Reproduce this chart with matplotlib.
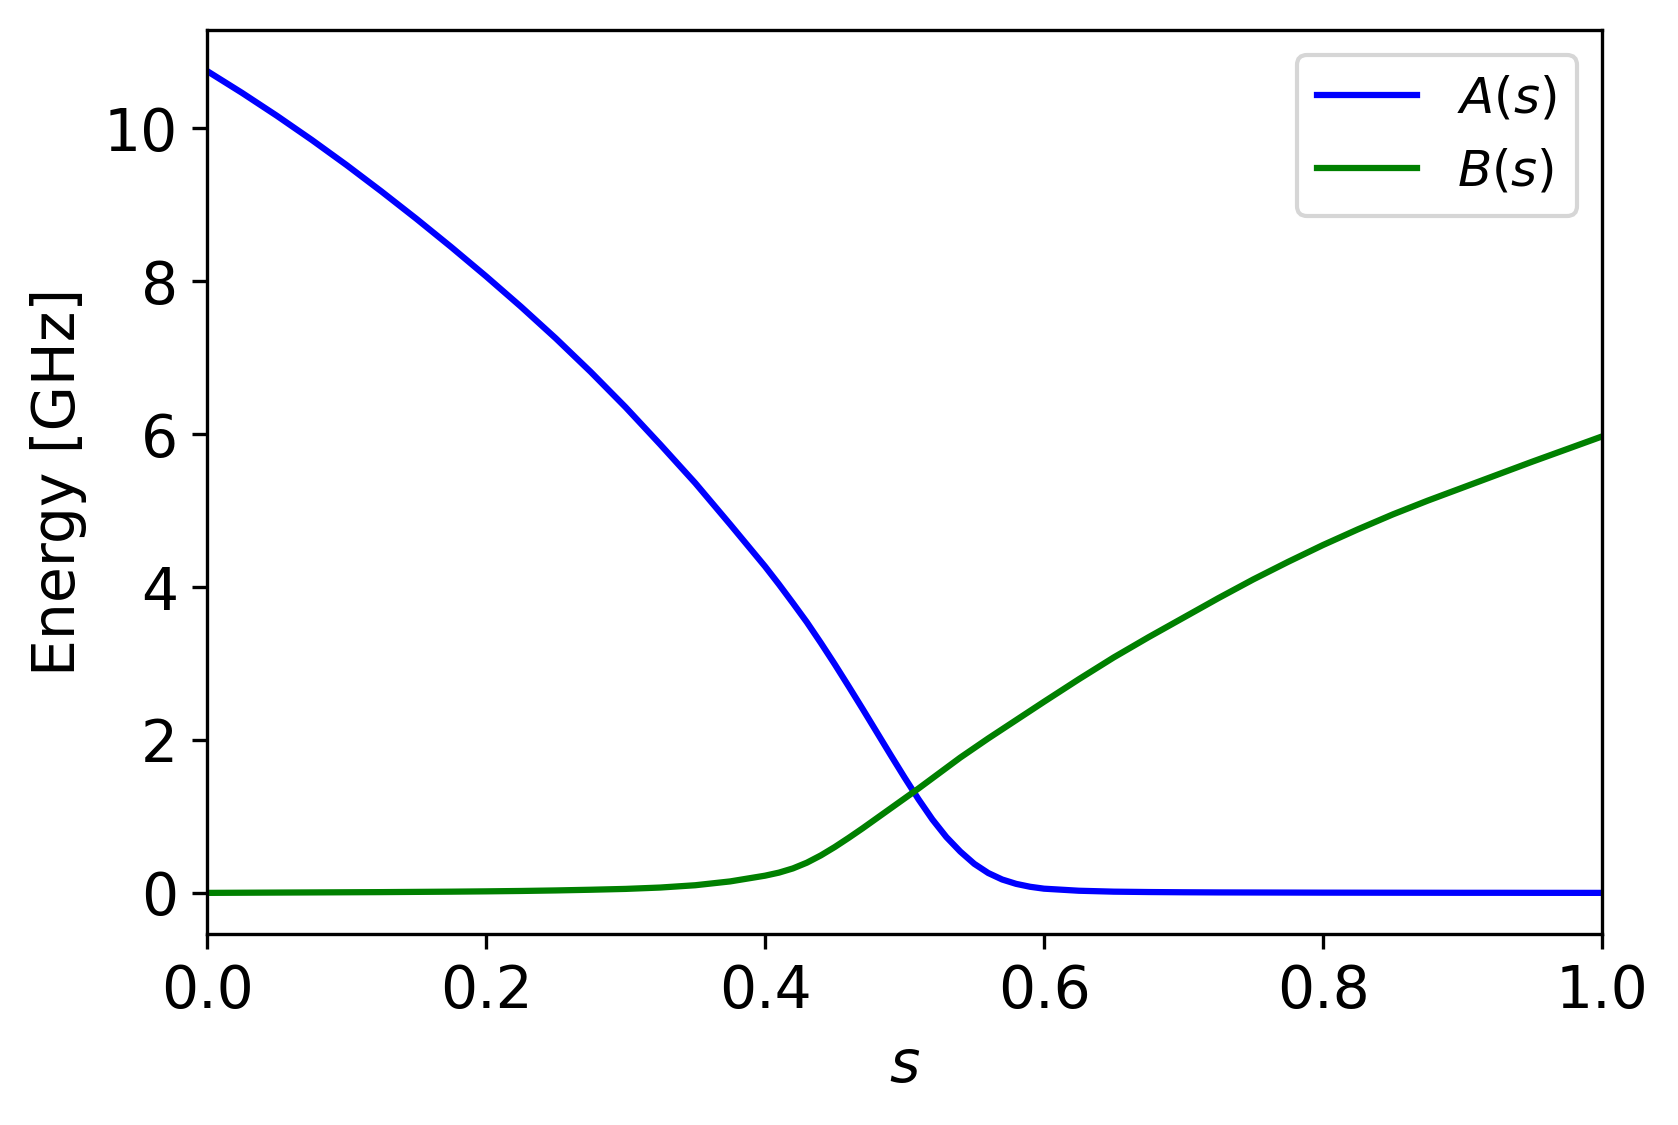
import matplotlib
matplotlib.use("Agg")
import matplotlib.pyplot as plt
import numpy as np

# annealing schedule
s = [0.0, 0.025, 0.05, 0.075, 0.1, 0.125, 0.15, 0.175, 0.2, 0.225,
     0.25, 0.275, 0.3, 0.325, 0.35, 0.375,
     0.4, 0.41, 0.42, 0.43, 0.44, 0.45, 0.46, 0.47, 0.48, 0.49,
     0.5, 0.51, 0.52, 0.53, 0.54, 0.55, 0.56, 0.57, 0.58, 0.59,
     0.6, 0.625, 0.65, 0.675, 0.7, 0.725, 0.75, 0.775, 0.8, 0.825,
     0.85, 0.875, 0.9, 0.925, 0.95, 0.975, 1.0]

A = [10.75, 10.465, 10.165, 9.85, 9.52, 9.175, 8.818, 8.448, 8.065, 7.668,
     7.253, 6.815, 6.353, 5.863, 5.36, 4.82,
     4.27, 4.035, 3.79, 3.54, 3.27, 2.99, 2.70, 2.405, 2.105, 1.805,
     1.51, 1.225, 0.96, 0.73, 0.54, 0.38, 0.26, 0.175, 0.118, 0.08,
     0.055, 0.028, 0.016, 0.011, 0.008, 0.006, 0.005, 0.004, 0.003, 0.0025,
     0.002, 0.0015, 0.001, 0.001, 0.0005, 0.0003, 0.0]

B = [0.0, 0.002, 0.004, 0.006, 0.008, 0.010, 0.013, 0.016, 0.020, 0.025,
     0.032, 0.041, 0.052, 0.070, 0.100, 0.150,
     0.225, 0.265, 0.32, 0.395, 0.49, 0.60, 0.72, 0.845, 0.975, 1.105,
     1.235, 1.365, 1.50, 1.635, 1.77, 1.895, 2.02, 2.14, 2.26, 2.38,
     2.50, 2.795, 3.08, 3.345, 3.60, 3.855, 4.10, 4.33, 4.55, 4.755,
     4.95, 5.13, 5.30, 5.47, 5.64, 5.805, 5.97]

plt.rcParams["font.size"] = 14

fig = plt.figure(figsize=(1678/300, 1125/300), dpi=300)
ax = fig.add_axes([0.1234, 0.1698, 0.8313, 0.8036])

ax.plot(s, A, color="blue", lw=1.5, label=r"$A(s)$")
ax.plot(s, B, color="green", lw=1.5, label=r"$B(s)$")

ax.set_xlim(0.0, 1.0)
ax.set_xlabel(r"$s$")
ax.set_ylabel("Energy [GHz]")
ax.legend(loc="upper right", fontsize=12)

fig.savefig("out.png", dpi=300)
